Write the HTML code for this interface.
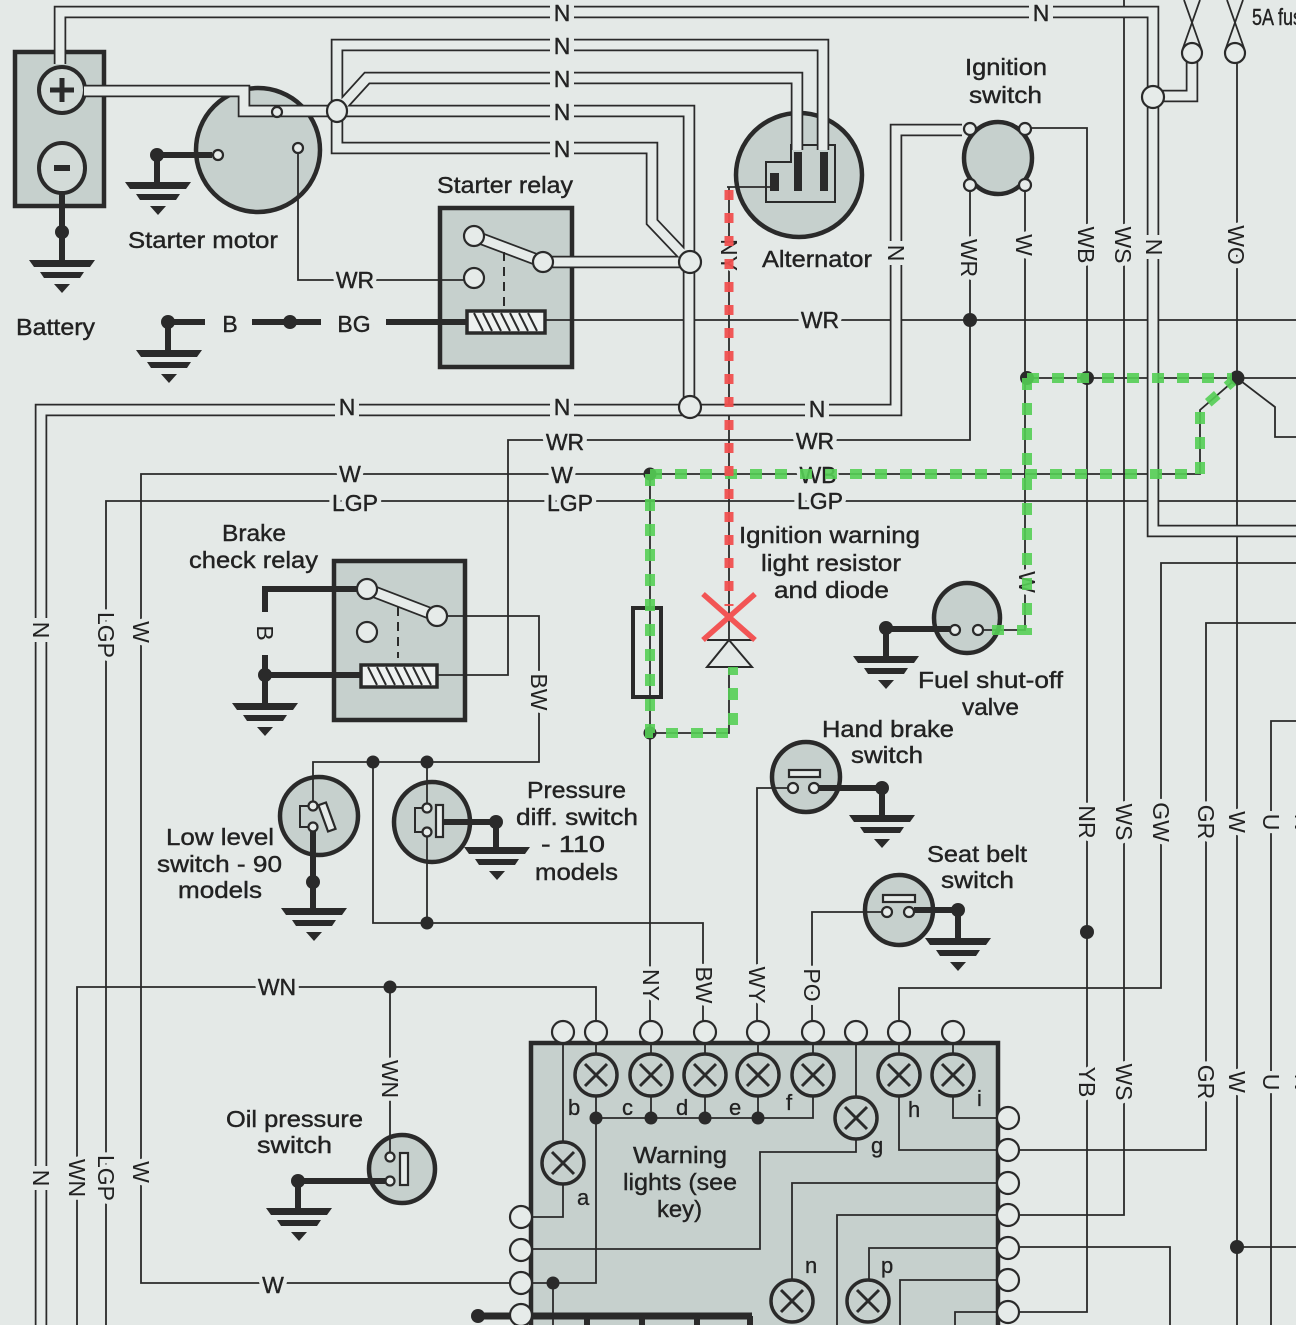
<!DOCTYPE html>
<html><head><meta charset="utf-8"><style>
html,body{margin:0;padding:0;background:#e4e9e7}
svg{display:block}
.t{font-family:"Liberation Sans",Arial,sans-serif;font-size:23px;fill:#222;stroke:#222;stroke-width:0.4px}
.l{font-family:"Liberation Sans",Arial,sans-serif;font-size:23px;fill:#222;paint-order:stroke;stroke:#e4e9e7;stroke-width:9px;stroke-linejoin:round;text-anchor:middle}
.s{font-family:"Liberation Sans",Arial,sans-serif;font-size:22px;fill:#222;stroke:#222;stroke-width:0.3px}
.w{fill:none;stroke:#2a2a2a;stroke-width:1.8}
.k{fill:none;stroke:#2a2a2a;stroke-width:6}
.c1{fill:none;stroke:#2a2a2a;stroke-width:12.5;stroke-linejoin:miter}
.c2{fill:none;stroke:#e6ebe9;stroke-width:9;stroke-linejoin:miter}
.comp{fill:#c6d0cd;stroke:#2a2a2a;stroke-width:4.5}
.o{fill:#e6ebe9;stroke:#2a2a2a;stroke-width:2.2}
.d{fill:#2a2a2a}
.g{fill:#2a2a2a}
.lamp circle{fill:#c6d0cd;stroke:#2a2a2a;stroke-width:3.5}
.lamp path{stroke:#2a2a2a;stroke-width:3;fill:none}
</style></head><body>
<svg width="1296" height="1325" viewBox="0 0 1296 1325" xmlns="http://www.w3.org/2000/svg">
<rect x="0" y="0" width="1296" height="1325" fill="#e4e9e7"/>

<!-- component bodies -->
<rect x="15" y="52" width="89" height="154" class="comp" stroke-width="5"/>
<ellipse cx="258" cy="150" rx="62" ry="62" class="comp"/>
<rect x="440" y="208" width="132" height="159" class="comp" stroke-width="5"/>
<ellipse cx="799" cy="175" rx="63" ry="62" class="comp"/>
<path d="M766,162 H791 V145 H835 V202 H766 Z" fill="#c6d0cd" stroke="#2a2a2a" stroke-width="2"/>
<ellipse cx="998" cy="158" rx="34" ry="36" class="comp"/>
<rect x="334" y="561" width="131" height="159" class="comp" stroke-width="5"/>
<ellipse cx="319" cy="816" rx="39" ry="39" class="comp"/>
<ellipse cx="432" cy="822" rx="38" ry="40" class="comp"/>
<ellipse cx="967" cy="618" rx="33" ry="35" class="comp"/>
<ellipse cx="806" cy="777" rx="34" ry="35" class="comp"/>
<ellipse cx="899" cy="910" rx="34" ry="35" class="comp"/>
<ellipse cx="402" cy="1169" rx="33" ry="34" class="comp"/>
<path d="M531,1330 V1043 H998 V1330" class="comp" stroke-width="5"/>

<!-- battery terminals -->
<circle cx="62" cy="90" r="23" fill="#d3dbd8" stroke="#2a2a2a" stroke-width="4"/>
<path d="M50,90 H74 M62,78 V102" stroke="#2a2a2a" stroke-width="5"/>
<ellipse cx="62" cy="168" rx="23" ry="25" fill="#d3dbd8" stroke="#2a2a2a" stroke-width="4"/>
<path d="M54,168 H70" stroke="#2a2a2a" stroke-width="6"/>

<!-- thin wires -->
<g class="w">
<path d="M298,153 V280 H474"/>
<path d="M545,320 H1296"/>
<path d="M727,187 H770"/>
<path d="M729,187 V640"/>
<path d="M729,667 V733 H650"/>
<path d="M650,474 V1021"/>
<path d="M1031,128 H1087 V1312 H1019"/>
<path d="M970,192 V440 H508 V675 H437"/>
<path d="M1025,192 V630 H979"/>
<path d="M1027,378 H1296"/>
<path d="M1237,378 L1275,407 V437 H1296"/>
<path d="M510,1283 H141 V474 H1200 V410 L1237,378"/>
<path d="M1296,501 H106 V1325"/>
<path d="M596,1021 V987 H77 V1325"/>
<path d="M390,987 V1152"/>
<path d="M447,616 H539 V762 H313 V802"/>
<path d="M427,762 V804"/>
<path d="M427,836 V923"/>
<path d="M373,762 V923 H703 V1021"/>
<path d="M757,1021 V788 H788"/>
<path d="M812,1021 V912 H882"/>
<path d="M1124,0 V1215 H1019"/>
<path d="M1296,563 H1161 V988 H899 V1021"/>
<path d="M1296,623 H1206 V1150 H1019"/>
<path d="M1237,63 V1325 M1237,1247 H1296"/>
<path d="M1296,721 H1271 V1325"/>
<path d="M1019,1247 H1170 V1325"/>
<!-- fuses -->
<path d="M1183,48 L1200,0 M1201,48 L1184,0"/>
<path d="M1226,48 L1243,0 M1244,48 L1227,0"/>
<!-- warning box internals -->
<path d="M563,1043 V1142"/>
<path d="M563,1184 V1217 H532"/>
<path d="M596,1043 V1283 H532"/>
<path d="M651,1043 V1118 M705,1043 V1118 M758,1043 V1118"/>
<path d="M813,1043 V1118 H596"/>
<path d="M553,1283 V1325"/>
<path d="M856,1043 V1152 H760 V1249 H532"/>
<path d="M899,1043 V1150 H998"/>
<path d="M953,1043 V1118 H998"/>
<path d="M998,1183 H792 V1300"/>
<path d="M998,1215 H837 V1325"/>
<path d="M998,1248 H869 V1300"/>
<path d="M998,1280 H900 V1325"/>
<path d="M998,1312 H955 V1325"/>
</g>

<!-- thick wires -->
<g class="k">
<path d="M62,192 V262"/>
<path d="M212,155 H157 V183"/>
<path d="M205,322 H168 V350"/>
<path d="M252,322 H321"/>
<path d="M386,322 H468"/>
<path d="M357,589 H265 V612"/>
<path d="M265,655 V704 M265,675 H362"/>
<path d="M313,831 V909"/>
<path d="M443,822 H496 V848"/>
<path d="M950,629 H886 V657"/>
<path d="M819,788 H882 V816"/>
<path d="M914,910 H958 V939"/>
<path d="M385,1181 H298 V1209"/>
<path d="M478,1316 H752" stroke-width="7"/>
<path d="M587,1316 V1325 M642,1316 V1325 M697,1316 V1325 M750,1316 V1325"/>
</g>

<!-- grounds -->
<g class="g">
<path transform="translate(62,260)" d="M-33,0H33L28,7H-28Z M-22,12H22L18,18H-18Z M-8,24H8L0,33Z"/>
<path transform="translate(158,182)" d="M-33,0H33L28,7H-28Z M-22,12H22L18,18H-18Z M-8,24H8L0,33Z"/>
<path transform="translate(169,350)" d="M-33,0H33L28,7H-28Z M-22,12H22L18,18H-18Z M-8,24H8L0,33Z"/>
<path transform="translate(265,703)" d="M-33,0H33L28,7H-28Z M-22,12H22L18,18H-18Z M-8,24H8L0,33Z"/>
<path transform="translate(314,908)" d="M-33,0H33L28,7H-28Z M-22,12H22L18,18H-18Z M-8,24H8L0,33Z"/>
<path transform="translate(497,847)" d="M-33,0H33L28,7H-28Z M-22,12H22L18,18H-18Z M-8,24H8L0,33Z"/>
<path transform="translate(886,656)" d="M-33,0H33L28,7H-28Z M-22,12H22L18,18H-18Z M-8,24H8L0,33Z"/>
<path transform="translate(882,815)" d="M-33,0H33L28,7H-28Z M-22,12H22L18,18H-18Z M-8,24H8L0,33Z"/>
<path transform="translate(958,938)" d="M-33,0H33L28,7H-28Z M-22,12H22L18,18H-18Z M-8,24H8L0,33Z"/>
<path transform="translate(299,1208)" d="M-33,0H33L28,7H-28Z M-22,12H22L18,18H-18Z M-8,24H8L0,33Z"/>
</g>

<!-- cables -->
<g class="c1">
<path d="M60,64 V12 H1153 V531 H1300"/>
<path d="M1153,96 H1192 V62"/>
<path d="M84,91 H244 V111 H337"/>
<path d="M337,111 V45 H823 V150"/>
<path d="M337,111 L367,78 H797 V150"/>
<path d="M337,111 H689 V407"/>
<path d="M337,111 V148 H652 V222 L690,262"/>
<path d="M543,262 H690"/>
<path d="M41,1330 V410 H896 V130 H962"/>
<path d="M474,236 L543,262"/>
<path d="M367,589 L437,616"/>
</g>
<g class="c2">
<path d="M60,64 V12 H1153 V531 H1300"/>
<path d="M1153,96 H1192 V62"/>
<path d="M84,91 H244 V111 H337"/>
<path d="M337,111 V45 H823 V150"/>
<path d="M337,111 L367,78 H797 V150"/>
<path d="M337,111 H689 V407"/>
<path d="M337,111 V148 H652 V222 L690,262"/>
<path d="M543,262 H690"/>
<path d="M41,1330 V410 H896 V130 H962"/>
<path d="M474,236 L543,262"/>
<path d="M367,589 L437,616"/>
</g>

<!-- alternator pins -->
<rect x="770" y="173" width="9" height="18" fill="#2a2a2a"/>
<rect x="794" y="152" width="8" height="39" fill="#2a2a2a"/>
<rect x="820" y="152" width="8" height="39" fill="#2a2a2a"/>

<!-- junctions and terminals -->
<ellipse cx="337" cy="111" rx="10" ry="11" class="o"/>
<ellipse cx="690" cy="262" rx="11" ry="11" class="o"/>
<ellipse cx="690" cy="407" rx="11" ry="11" class="o"/>
<ellipse cx="1153" cy="97" rx="11" ry="11" class="o"/>
<ellipse cx="1192" cy="53" rx="10" ry="10" class="o"/>
<ellipse cx="1235" cy="53" rx="10" ry="10" class="o"/>
<circle cx="277" cy="112" r="5" class="o"/>
<circle cx="218" cy="155" r="5" class="o"/>
<circle cx="298" cy="148" r="5" class="o"/>
<circle cx="970" cy="129" r="6" class="o"/>
<circle cx="1025" cy="129" r="6" class="o"/>
<circle cx="970" cy="185" r="6" class="o"/>
<circle cx="1025" cy="185" r="6" class="o"/>
<!-- starter relay -->
<circle cx="474" cy="236" r="10" class="o" stroke-width="2.5"/>
<circle cx="543" cy="262" r="10" class="o" stroke-width="2.5"/>
<circle cx="474" cy="278" r="10" class="o" stroke-width="2.5"/>
<path d="M504,252 V307" stroke="#2a2a2a" stroke-width="2" stroke-dasharray="9 6"/>
<rect x="467" y="311" width="78" height="22" fill="#eef1f0" stroke="#2a2a2a" stroke-width="3.5"/>
<path d="M474,313 L483,331 M483,313 L492,331 M492,313 L501,331 M501,313 L510,331 M510,313 L519,331 M519,313 L528,331 M528,313 L537,331" stroke="#2a2a2a" stroke-width="2"/>
<!-- brake relay -->
<circle cx="367" cy="589" r="10" class="o" stroke-width="2.5"/>
<circle cx="437" cy="616" r="10" class="o" stroke-width="2.5"/>
<circle cx="367" cy="632" r="10" class="o" stroke-width="2.5"/>
<path d="M398,607 V658" stroke="#2a2a2a" stroke-width="2" stroke-dasharray="9 6"/>
<rect x="361" y="665" width="76" height="22" fill="#eef1f0" stroke="#2a2a2a" stroke-width="3.5"/>
<path d="M368,667 L377,685 M377,667 L386,685 M386,667 L395,685 M395,667 L404,685 M404,667 L413,685 M413,667 L422,685 M422,667 L431,685" stroke="#2a2a2a" stroke-width="2"/>
<!-- switch internals -->
<circle cx="313" cy="806" r="4.5" class="o"/>
<circle cx="313" cy="827" r="4.5" class="o"/>
<path d="M309,806 H300 V827 H309" fill="none" stroke="#2a2a2a" stroke-width="2"/>
<rect x="-4" y="-14" width="8" height="28" transform="translate(327,817) rotate(-20)" class="o"/>
<circle cx="427" cy="808" r="4.5" class="o"/>
<circle cx="427" cy="832" r="4.5" class="o"/>
<path d="M423,808 H415 V832 H423" fill="none" stroke="#2a2a2a" stroke-width="2"/>
<rect x="436" y="805" width="7" height="32" class="o"/>
<circle cx="390" cy="1157" r="4.5" class="o"/>
<circle cx="390" cy="1181" r="4.5" class="o"/>
<rect x="400" y="1153" width="8" height="32" class="o"/>
<circle cx="793" cy="788" r="5" class="o"/>
<circle cx="814" cy="788" r="5" class="o"/>
<rect x="789" y="770" width="31" height="7" class="o"/>
<circle cx="887" cy="912" r="5" class="o"/>
<circle cx="909" cy="912" r="5" class="o"/>
<rect x="883" y="895" width="32" height="7" class="o"/>
<circle cx="955" cy="630" r="5" class="o"/>
<circle cx="978" cy="630" r="5" class="o"/>
<!-- resistor & diode -->
<rect x="633" y="608" width="28" height="89" fill="#e6ebe9" stroke="#2a2a2a" stroke-width="4"/>
<path d="M650,608 V697" stroke="#2a2a2a" stroke-width="1.8"/>
<path d="M707,640 H752 M729,640 L707,667 H752 Z" fill="none" stroke="#2a2a2a" stroke-width="2"/>

<!-- connectors -->
<g class="o">
<ellipse cx="563" cy="1032" rx="11" ry="11"/>
<ellipse cx="596" cy="1032" rx="11" ry="11"/>
<ellipse cx="651" cy="1032" rx="11" ry="11"/>
<ellipse cx="705" cy="1032" rx="11" ry="11"/>
<ellipse cx="758" cy="1032" rx="11" ry="11"/>
<ellipse cx="813" cy="1032" rx="11" ry="11"/>
<ellipse cx="856" cy="1032" rx="11" ry="11"/>
<ellipse cx="899" cy="1032" rx="11" ry="11"/>
<ellipse cx="953" cy="1032" rx="11" ry="11"/>
<ellipse cx="521" cy="1217" rx="11" ry="11"/>
<ellipse cx="521" cy="1250" rx="11" ry="11"/>
<ellipse cx="521" cy="1283" rx="11" ry="11"/>
<ellipse cx="521" cy="1315" rx="11" ry="11"/>
<ellipse cx="1008" cy="1118" rx="11" ry="11"/>
<ellipse cx="1008" cy="1150" rx="11" ry="11"/>
<ellipse cx="1008" cy="1183" rx="11" ry="11"/>
<ellipse cx="1008" cy="1215" rx="11" ry="11"/>
<ellipse cx="1008" cy="1248" rx="11" ry="11"/>
<ellipse cx="1008" cy="1280" rx="11" ry="11"/>
<ellipse cx="1008" cy="1312" rx="11" ry="11"/>
</g>

<!-- lamps -->
<g class="lamp">
<g transform="translate(596,1075)"><circle r="21"/><path d="M-11,-11L11,11M11,-11L-11,11"/></g>
<g transform="translate(651,1075)"><circle r="21"/><path d="M-11,-11L11,11M11,-11L-11,11"/></g>
<g transform="translate(705,1075)"><circle r="21"/><path d="M-11,-11L11,11M11,-11L-11,11"/></g>
<g transform="translate(758,1075)"><circle r="21"/><path d="M-11,-11L11,11M11,-11L-11,11"/></g>
<g transform="translate(813,1075)"><circle r="21"/><path d="M-11,-11L11,11M11,-11L-11,11"/></g>
<g transform="translate(899,1075)"><circle r="21"/><path d="M-11,-11L11,11M11,-11L-11,11"/></g>
<g transform="translate(953,1075)"><circle r="21"/><path d="M-11,-11L11,11M11,-11L-11,11"/></g>
<g transform="translate(856,1118)"><circle r="21"/><path d="M-11,-11L11,11M11,-11L-11,11"/></g>
<g transform="translate(563,1163)"><circle r="21"/><path d="M-11,-11L11,11M11,-11L-11,11"/></g>
<g transform="translate(792,1301)"><circle r="21"/><path d="M-11,-11L11,11M11,-11L-11,11"/></g>
<g transform="translate(868,1301)"><circle r="21"/><path d="M-11,-11L11,11M11,-11L-11,11"/></g>
</g>

<!-- dots -->
<g class="d">
<circle cx="62" cy="232" r="7"/><circle cx="157" cy="155" r="7"/><circle cx="168" cy="322" r="7"/>
<circle cx="290" cy="322" r="7"/><circle cx="265" cy="675" r="7"/><circle cx="313" cy="882" r="7"/>
<circle cx="373" cy="762" r="6.5"/><circle cx="427" cy="762" r="6.5"/><circle cx="427" cy="923" r="6.5"/>
<circle cx="496" cy="822" r="7"/><circle cx="390" cy="987" r="6.5"/><circle cx="298" cy="1181" r="7"/>
<circle cx="478" cy="1316" r="7"/><circle cx="553" cy="1283" r="6.5"/><circle cx="596" cy="1118" r="6.5"/>
<circle cx="651" cy="1118" r="6.5"/><circle cx="705" cy="1118" r="6.5"/><circle cx="758" cy="1118" r="6.5"/>
<circle cx="650" cy="474" r="6.5"/><circle cx="650" cy="733" r="6.5"/><circle cx="970" cy="320" r="7"/>
<circle cx="1027" cy="378" r="7"/><circle cx="1087" cy="378" r="7"/><circle cx="1237" cy="378" r="7.5"/>
<circle cx="886" cy="628" r="7"/><circle cx="882" cy="788" r="7"/><circle cx="958" cy="910" r="7"/>
<circle cx="1087" cy="932" r="7"/><circle cx="1237" cy="1247" r="7"/>
</g>

<!-- wire labels horizontal -->
<g>
<rect x="550" y="2" width="24" height="22" fill="#e4e9e7"/>
<rect x="1029" y="2" width="24" height="22" fill="#e4e9e7"/>
<rect x="550" y="35" width="24" height="22" fill="#e4e9e7"/>
<rect x="550" y="68" width="24" height="22" fill="#e4e9e7"/>
<rect x="550" y="101" width="24" height="22" fill="#e4e9e7"/>
<rect x="550" y="138" width="24" height="22" fill="#e4e9e7"/>
<rect x="335" y="396" width="24" height="22" fill="#e4e9e7"/>
<rect x="550" y="396" width="24" height="22" fill="#e4e9e7"/>
<rect x="805" y="398" width="24" height="22" fill="#e4e9e7"/>
<rect x="885" y="241" width="22" height="24" fill="#e4e9e7"/>
<rect x="1143" y="235" width="22" height="24" fill="#e4e9e7"/>
<rect x="30" y="618" width="22" height="24" fill="#e4e9e7"/>
<rect x="30" y="1166" width="22" height="24" fill="#e4e9e7"/>
</g>
<g class="l">
<text x="562" y="21">N</text><text x="1041" y="21">N</text>
<text x="562" y="54">N</text><text x="562" y="87">N</text><text x="562" y="120">N</text><text x="562" y="157">N</text>
<text x="355" y="288">WR</text>
<text x="230" y="332">B</text><text x="354" y="332">BG</text>
<text x="820" y="328">WR</text>
<text x="347" y="415">N</text><text x="562" y="415">N</text><text x="817" y="417">N</text>
<text x="565" y="450">WR</text><text x="815" y="449">WR</text>
<text x="350" y="482">W</text><text x="562" y="483">W</text><text x="818" y="483">WB</text>
<text x="355" y="511">LGP</text><text x="570" y="511">LGP</text><text x="820" y="509">LGP</text>
<text x="277" y="995">WN</text><text x="273" y="1293">W</text>
</g>
<!-- wire labels vertical -->
<g class="l">
<text transform="translate(729,255) rotate(90)" y="8">NY</text>
<text transform="translate(896,253) rotate(90)" y="8">N</text>
<text transform="translate(969,258) rotate(90)" y="8">WR</text>
<text transform="translate(1024,245) rotate(90)" y="8">W</text>
<text transform="translate(1086,245) rotate(90)" y="8">WB</text>
<text transform="translate(1123,245) rotate(90)" y="8">WS</text>
<text transform="translate(1154,247) rotate(90)" y="8">N</text>
<text transform="translate(1236,245) rotate(90)" y="8">WO</text>
<text transform="translate(41,630) rotate(90)" y="8">N</text>
<text transform="translate(106,635) rotate(90)" y="8">LGP</text>
<text transform="translate(141,632) rotate(90)" y="8">W</text>
<text transform="translate(265,633) rotate(90)" y="8">B</text>
<text transform="translate(539,692) rotate(90)" y="8">BW</text>
<text transform="translate(1027,582) rotate(90)" y="8">W</text>
<text transform="translate(1087,822) rotate(90)" y="8">NR</text>
<text transform="translate(1124,822) rotate(90)" y="8">WS</text>
<text transform="translate(1161,822) rotate(90)" y="8">GW</text>
<text transform="translate(1206,822) rotate(90)" y="8">GR</text>
<text transform="translate(1237,822) rotate(90)" y="8">W</text>
<text transform="translate(1271,822) rotate(90)" y="8">U</text>
<text transform="translate(1303,822) rotate(90)" y="8">N</text>
<text transform="translate(1087,1082) rotate(90)" y="8">YB</text>
<text transform="translate(1124,1082) rotate(90)" y="8">WS</text>
<text transform="translate(1206,1082) rotate(90)" y="8">GR</text>
<text transform="translate(1237,1082) rotate(90)" y="8">W</text>
<text transform="translate(1271,1082) rotate(90)" y="8">U</text>
<text transform="translate(1303,1082) rotate(90)" y="8">N</text>
<text transform="translate(390,1079) rotate(90)" y="8">WN</text>
<text transform="translate(651,985) rotate(90)" y="8">NY</text>
<text transform="translate(704,985) rotate(90)" y="8">BW</text>
<text transform="translate(757,985) rotate(90)" y="8">WY</text>
<text transform="translate(812,985) rotate(90)" y="8">PO</text>
<text transform="translate(41,1178) rotate(90)" y="8">N</text>
<text transform="translate(77,1178) rotate(90)" y="8">WN</text>
<text transform="translate(106,1178) rotate(90)" y="8">LGP</text>
<text transform="translate(141,1172) rotate(90)" y="8">W</text>
</g>
<g class="l" style="fill:none;stroke:#222;stroke-width:0.4px;paint-order:normal">
<text x="562" y="21">N</text><text x="1041" y="21">N</text>
<text x="562" y="54">N</text><text x="562" y="87">N</text><text x="562" y="120">N</text><text x="562" y="157">N</text>
<text x="355" y="288">WR</text>
<text x="230" y="332">B</text><text x="354" y="332">BG</text>
<text x="820" y="328">WR</text>
<text x="347" y="415">N</text><text x="562" y="415">N</text><text x="817" y="417">N</text>
<text x="565" y="450">WR</text><text x="815" y="449">WR</text>
<text x="350" y="482">W</text><text x="562" y="483">W</text><text x="818" y="483">WB</text>
<text x="355" y="511">LGP</text><text x="570" y="511">LGP</text><text x="820" y="509">LGP</text>
<text x="277" y="995">WN</text><text x="273" y="1293">W</text>
</g>

<!-- component labels -->
<g class="t">
<text x="16" y="335" textLength="79" lengthAdjust="spacingAndGlyphs">Battery</text>
<text x="128" y="248" textLength="150" lengthAdjust="spacingAndGlyphs">Starter motor</text>
<text x="437" y="193" textLength="136" lengthAdjust="spacingAndGlyphs">Starter relay</text>
<text x="762" y="267" textLength="110" lengthAdjust="spacingAndGlyphs">Alternator</text>
<text x="965" y="75" textLength="82" lengthAdjust="spacingAndGlyphs">Ignition</text>
<text x="969" y="103" textLength="73" lengthAdjust="spacingAndGlyphs">switch</text>
<text x="222" y="541" textLength="64" lengthAdjust="spacingAndGlyphs">Brake</text>
<text x="189" y="568" textLength="129" lengthAdjust="spacingAndGlyphs">check relay</text>
<text x="739" y="543" textLength="181" lengthAdjust="spacingAndGlyphs">Ignition warning</text>
<text x="761" y="571" textLength="140" lengthAdjust="spacingAndGlyphs">light resistor</text>
<text x="774" y="598" textLength="115" lengthAdjust="spacingAndGlyphs">and diode</text>
<text x="918" y="688" textLength="145" lengthAdjust="spacingAndGlyphs">Fuel shut-off</text>
<text x="962" y="715" textLength="57" lengthAdjust="spacingAndGlyphs">valve</text>
<text x="822" y="737" textLength="132" lengthAdjust="spacingAndGlyphs">Hand brake</text>
<text x="851" y="763" textLength="72" lengthAdjust="spacingAndGlyphs">switch</text>
<text x="927" y="862" textLength="100" lengthAdjust="spacingAndGlyphs">Seat belt</text>
<text x="941" y="888" textLength="73" lengthAdjust="spacingAndGlyphs">switch</text>
<text x="166" y="845" textLength="108" lengthAdjust="spacingAndGlyphs">Low level</text>
<text x="157" y="872" textLength="125" lengthAdjust="spacingAndGlyphs">switch - 90</text>
<text x="178" y="898" textLength="84" lengthAdjust="spacingAndGlyphs">models</text>
<text x="527" y="798" textLength="99" lengthAdjust="spacingAndGlyphs">Pressure</text>
<text x="516" y="825" textLength="122" lengthAdjust="spacingAndGlyphs">diff. switch</text>
<text x="541" y="852" textLength="64" lengthAdjust="spacingAndGlyphs">- 110</text>
<text x="535" y="880" textLength="83" lengthAdjust="spacingAndGlyphs">models</text>
<text x="226" y="1127" textLength="137" lengthAdjust="spacingAndGlyphs">Oil pressure</text>
<text x="257" y="1153" textLength="75" lengthAdjust="spacingAndGlyphs">switch</text>
<text x="633" y="1163" textLength="94" lengthAdjust="spacingAndGlyphs">Warning</text>
<text x="623" y="1190" textLength="114" lengthAdjust="spacingAndGlyphs">lights (see</text>
<text x="657" y="1217" textLength="45" lengthAdjust="spacingAndGlyphs">key)</text>
<text x="1252" y="25" textLength="60" lengthAdjust="spacingAndGlyphs">5A fuse</text>
</g>
<g class="s">
<text x="568" y="1115">b</text><text x="622" y="1115">c</text><text x="676" y="1115">d</text>
<text x="729" y="1115">e</text><text x="786" y="1110">f</text><text x="871" y="1153">g</text>
<text x="908" y="1117">h</text><text x="977" y="1106">i</text><text x="577" y="1205">a</text>
<text x="805" y="1273">n</text><text x="881" y="1273">p</text>
</g>

<!-- overlays -->
<g fill="none" stroke="#55cf55" stroke-width="10" stroke-dasharray="12 13" opacity="0.9">
<path d="M650,474 H1200 V410 L1233,381"/>
<path d="M1027,378 H1232"/>
<path d="M1027,378 V630 H985"/>
<path d="M650,474 V733 H733 V667"/>
</g>
<path d="M729,190 V606" fill="none" stroke="#f0504f" stroke-width="9" stroke-dasharray="10 13" opacity="0.95"/>
<path d="M703,594 L755,640 M755,594 L703,640" stroke="#f25555" stroke-width="5.5"/>
</svg>
</body></html>
